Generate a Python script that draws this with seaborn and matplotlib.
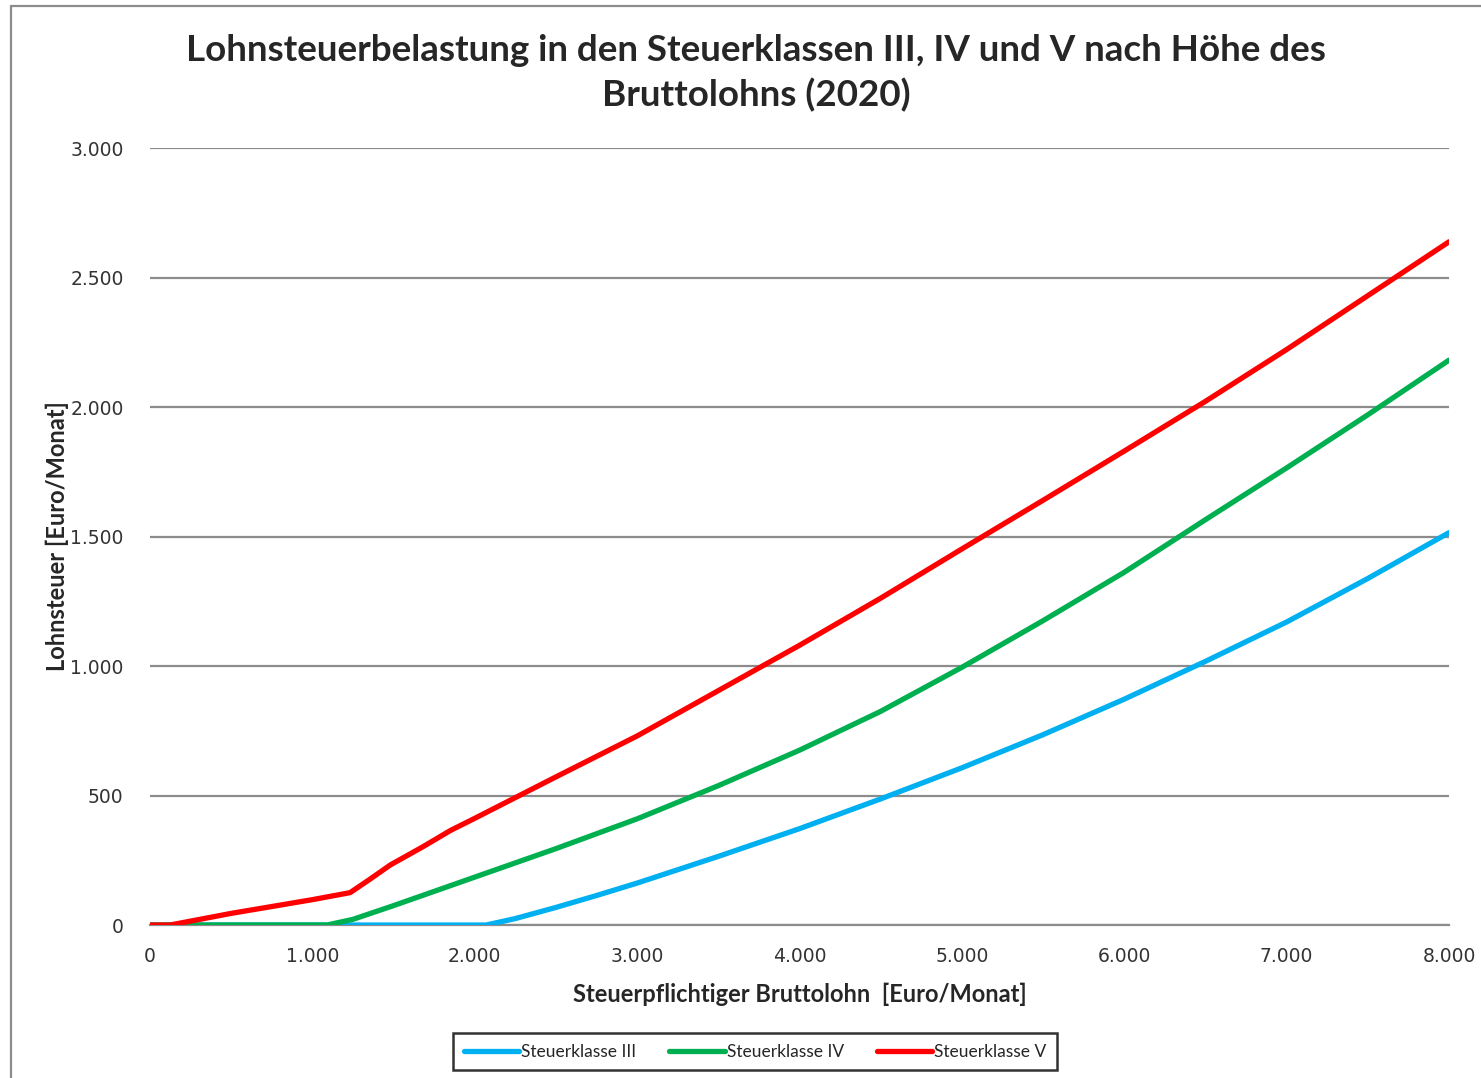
import numpy as np
import pandas as pd
import seaborn as sns
import matplotlib.pyplot as plt
from matplotlib.ticker import FuncFormatter
from matplotlib.lines import Line2D

# Lohnsteuer nach Bruttolohn (Euro/Monat)
x_III = [0, 2070, 2250, 2500, 2750, 3000, 3500, 4000, 4500, 5000, 5500, 6000, 6500, 7000, 7500, 8000]
y_III = [0, 0, 25, 68, 114, 162, 265, 372, 487, 607, 735, 872, 1018, 1170, 1338, 1515]

x_IV = [0, 1090, 1250, 1500, 1750, 2000, 2500, 3000, 3500, 4000, 4500, 5000, 5500, 6000, 6500, 7000, 7500, 8000]
y_IV = [0, 0, 22, 75, 130, 185, 295, 410, 538, 675, 825, 995, 1175, 1362, 1565, 1765, 1970, 2181]

x_V = [0, 123, 500, 1000, 1232, 1350, 1480, 1680, 1850, 2000, 2500, 3000, 3500, 4000, 4500, 5000, 5500, 6000, 6500, 7000, 7500, 8000]
y_V = [0, 0, 45, 98, 125, 175, 232, 302, 365, 412, 572, 730, 905, 1080, 1262, 1452, 1640, 1830, 2022, 2222, 2430, 2638]

labels = ["Steuerklasse III", "Steuerklasse IV", "Steuerklasse V"]
colors = ["#00B0F0", "#00B050", "#FF0000"]

sns.set_style("white")
plt.rcParams['font.family'] = ['Lato', 'DejaVu Sans']

fig = plt.figure(figsize=(14.81, 10.78), dpi=100)
ax = fig.add_axes([0.1013, 0.1419, 0.8771, 0.7208])

for xs, ys, lab, col in zip([x_III, x_IV, x_V], [y_III, y_IV, y_V], labels, colors):
    df = pd.DataFrame({"x": xs, "y": ys})
    sns.lineplot(data=df, x="x", y="y", ax=ax, color=col, linewidth=3.8,
                 label=lab, solid_capstyle="round", solid_joinstyle="round", zorder=3)

ax.set_xlim(0, 8000)
ax.set_ylim(0, 3000)
ax.set_xticks(np.arange(0, 8001, 1000))
ax.set_yticks(np.arange(0, 3001, 500))
fmt = FuncFormatter(lambda v, p: f"{int(v):,}".replace(",", "."))
ax.xaxis.set_major_formatter(fmt)
ax.yaxis.set_major_formatter(fmt)

ax.grid(axis="y", color="#8c8c8c", linewidth=1.6)
ax.grid(axis="x", visible=False)
for s in ["top", "right", "left"]:
    ax.spines[s].set_visible(False)
ax.spines["bottom"].set_color("#8c8c8c")
ax.spines["bottom"].set_linewidth(1.6)
ax.tick_params(axis="x", direction="out", length=7, width=1.6, color="#8c8c8c",
               labelsize=13.5, pad=9)
ax.tick_params(axis="y", length=0, labelsize=13.5, pad=19)
for t in ax.get_xticklabels() + ax.get_yticklabels():
    t.set_fontfamily("DejaVu Sans")
    t.set_color("#333333")

ax.set_xlabel("Steuerpflichtiger Bruttolohn  [Euro/Monat]", fontsize=17,
              fontweight="bold", labelpad=12)
ax.set_ylabel("Lohnsteuer [Euro/Monat]", fontsize=17, fontweight="bold")
ax.yaxis.set_label_coords(-0.0625, 0.5)

fig.text(0.5105, 0.9325, "Lohnsteuerbelastung in den Steuerklassen III, IV und V nach Höhe des\nBruttolohns (2020)",
         ha="center", va="center", fontsize=26.5, fontweight="bold", linespacing=1.38)

leg = ax.legend(loc="center", bbox_to_anchor=(0.5098, 0.0245), bbox_transform=fig.transFigure,
                ncol=3, frameon=True, fancybox=False, edgecolor="black", fontsize=12.5,
                handlelength=3.2, handletextpad=0.1, columnspacing=1.9,
                borderpad=0.6)
leg.get_frame().set_linewidth(1.8)

# outer chart frame
fig.add_artist(Line2D([11 / 1481, 11 / 1481], [0, 1 - 6 / 1078], transform=fig.transFigure,
                      color="#8c8c8c", linewidth=1.6))
fig.add_artist(Line2D([11 / 1481, 1], [1 - 6 / 1078, 1 - 6 / 1078], transform=fig.transFigure,
                      color="#8c8c8c", linewidth=1.6))

fig.savefig("out.png", dpi=100)
